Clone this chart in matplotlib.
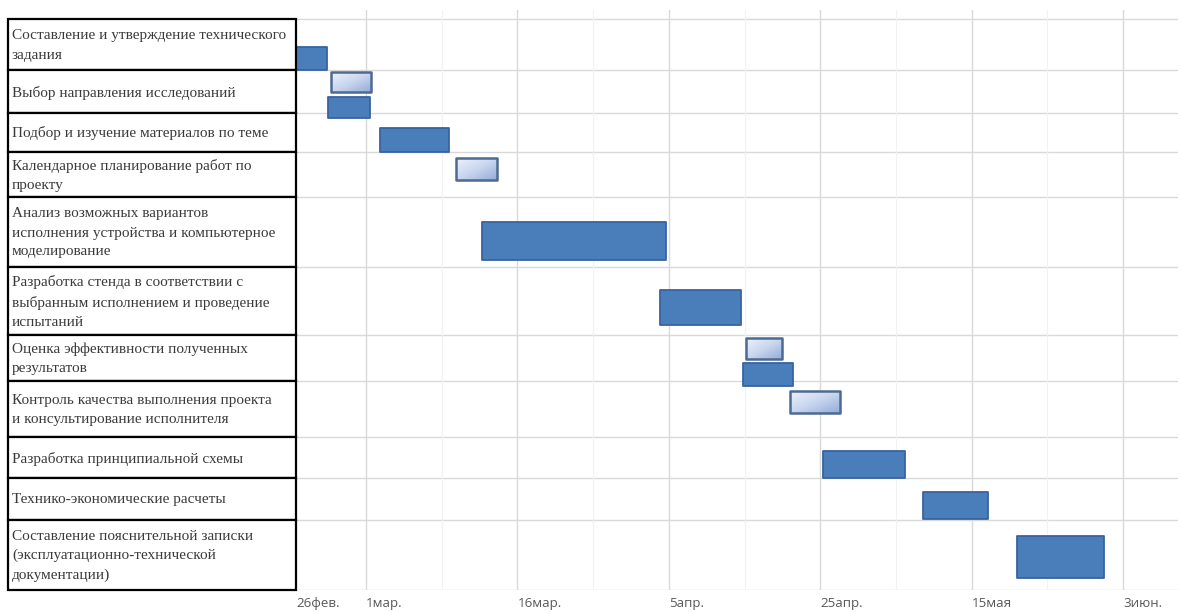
import numpy as np
import matplotlib as mpl
mpl.use("Agg")
import matplotlib.pyplot as plt
from matplotlib.patches import Rectangle
from matplotlib.colors import LinearSegmentedColormap

# tasks of the schedule (table on the left)
tasks = [
    "Составление и утверждение технического\nзадания",
    "Выбор направления исследований",
    "Подбор и изучение материалов по теме",
    "Календарное планирование работ по\nпроекту",
    "Анализ возможных вариантов\nисполнения устройства и компьютерное\nмоделирование",
    "Разработка стенда в соответствии с\nвыбранным исполнением и проведение\nиспытаний",
    "Оценка эффективности полученных\nрезультатов",
    "Контроль качества выполнения проекта\nи консультирование исполнителя",
    "Разработка принципиальной схемы",
    "Технико-экономические расчеты",
    "Составление пояснительной записки\n(эксплуатационно-технической\nдокументации)",
]

# bars: task index, start (days from axis start), duration (days), kind
bar_task = [0, 1, 1, 2, 3, 4, 5, 6, 6, 7, 8, 9, 10]
bar_start = [0.0, 4.6, 4.2, 11.1, 21.1, 24.6, 48.1, 59.4, 59.0, 65.3, 69.6, 82.8, 95.2]
bar_dur = [4.1, 5.3, 5.6, 9.1, 5.5, 24.3, 10.7, 4.8, 6.7, 6.6, 10.8, 8.6, 11.5]
bar_kind = ["fact", "plan", "fact", "fact", "plan", "fact", "fact", "plan", "fact",
            "plan", "fact", "fact", "fact"]

tick_pos = [0, 9.25, 29.25, 49.25, 69.25, 89.25, 109.25]
tick_labels = ["26фев.", "1мар.", "16мар.", "5апр.", "25апр.", "15мая", "3июн."]

# layout (pixel-like units, downwards from the table top)
row_h = [51, 43, 39, 45, 70, 68, 46, 56, 41, 42, 70]
bar_top = [28, 53, 78, 109, 139, 203, 271, 319, 344, 372, 432, 473, 517]
bar_h = [23, 20, 21, 24, 22, 38, 35, 21, 23, 22, 27, 27, 42]

row_edges = np.concatenate([[0], np.cumsum(row_h)])
total_h = row_edges[-1]

W, H = 1181, 612
fig = plt.figure(figsize=(W / 100, H / 100), dpi=100)
fig.patch.set_facecolor("white")

ax = fig.add_axes([296 / W, 1 - 590 / H, (1178 - 296) / W, 580 / H])
ax_t = fig.add_axes([8 / W, 1 - 590 / H, 288 / W, 580 / H])

# chart grid
ax.set_xlim(0, 116.5)
ax.set_ylim(total_h, -9)
for y in row_edges:
    ax.axhline(y, color="#d9d9d9", lw=1.0, zorder=0)
for x in tick_pos[1:]:
    ax.axvline(x, color="#d9d9d9", lw=1.0, zorder=0)
for x in tick_pos[1:]:
    ax.axvline(x + 10, color="#f2f2f2", lw=0.8, zorder=0)
for s in ax.spines.values():
    s.set_visible(False)
ax.set_yticks([])
ax.set_xticks(tick_pos, tick_labels)
ax.tick_params(axis="x", length=0, pad=5, labelsize=9.6, labelcolor="#595959")
for lab in ax.get_xticklabels():
    lab.set_ha("left")
    lab.set_family("Open Sans")

grad = np.add.outer(np.linspace(0, 1, 32), np.linspace(0, 1, 64)) / 2
light_cmap = LinearSegmentedColormap.from_list("lb", ["#eef2fa", "#c9d6ee", "#93acd9"])

for i in range(len(bar_task)):
    x0 = bar_start[i]
    w = bar_dur[i]
    y0 = bar_top[i]
    h = bar_h[i]
    if bar_kind[i] == "fact":
        r = Rectangle((x0, y0), w, h, facecolor="#4a7ebb", edgecolor="#3a62a0",
                      lw=1.3, joinstyle="round", zorder=3)
        ax.add_patch(r)
    else:
        r = Rectangle((x0, y0), w, h, facecolor="none", edgecolor="#4d6a93",
                      lw=1.8, joinstyle="round", zorder=4)
        ax.add_patch(r)
        im = ax.imshow(grad, extent=[x0, x0 + w, y0 + h, y0], origin="upper",
                       cmap=light_cmap, aspect="auto", interpolation="bilinear", zorder=3)
        im.set_clip_path(r)
ax.set_xlim(0, 116.5)
ax.set_ylim(total_h, -9)

# table with task names
ax_t.set_xlim(0, 288)
ax_t.set_ylim(total_h, -9)
ax_t.axis("off")
for k, name in enumerate(tasks):
    top = row_edges[k]
    ax_t.add_patch(Rectangle((0, top), 288, row_h[k], facecolor="white",
                             edgecolor="black", lw=1.6, clip_on=False, zorder=2))
    ax_t.text(4, top + row_h[k] / 2 + 1, name, ha="left", va="center",
              family="Liberation Serif", fontsize=11.0, color="#3a3a3a",
              linespacing=1.6, zorder=3)

fig.savefig("out.png", dpi=100)
